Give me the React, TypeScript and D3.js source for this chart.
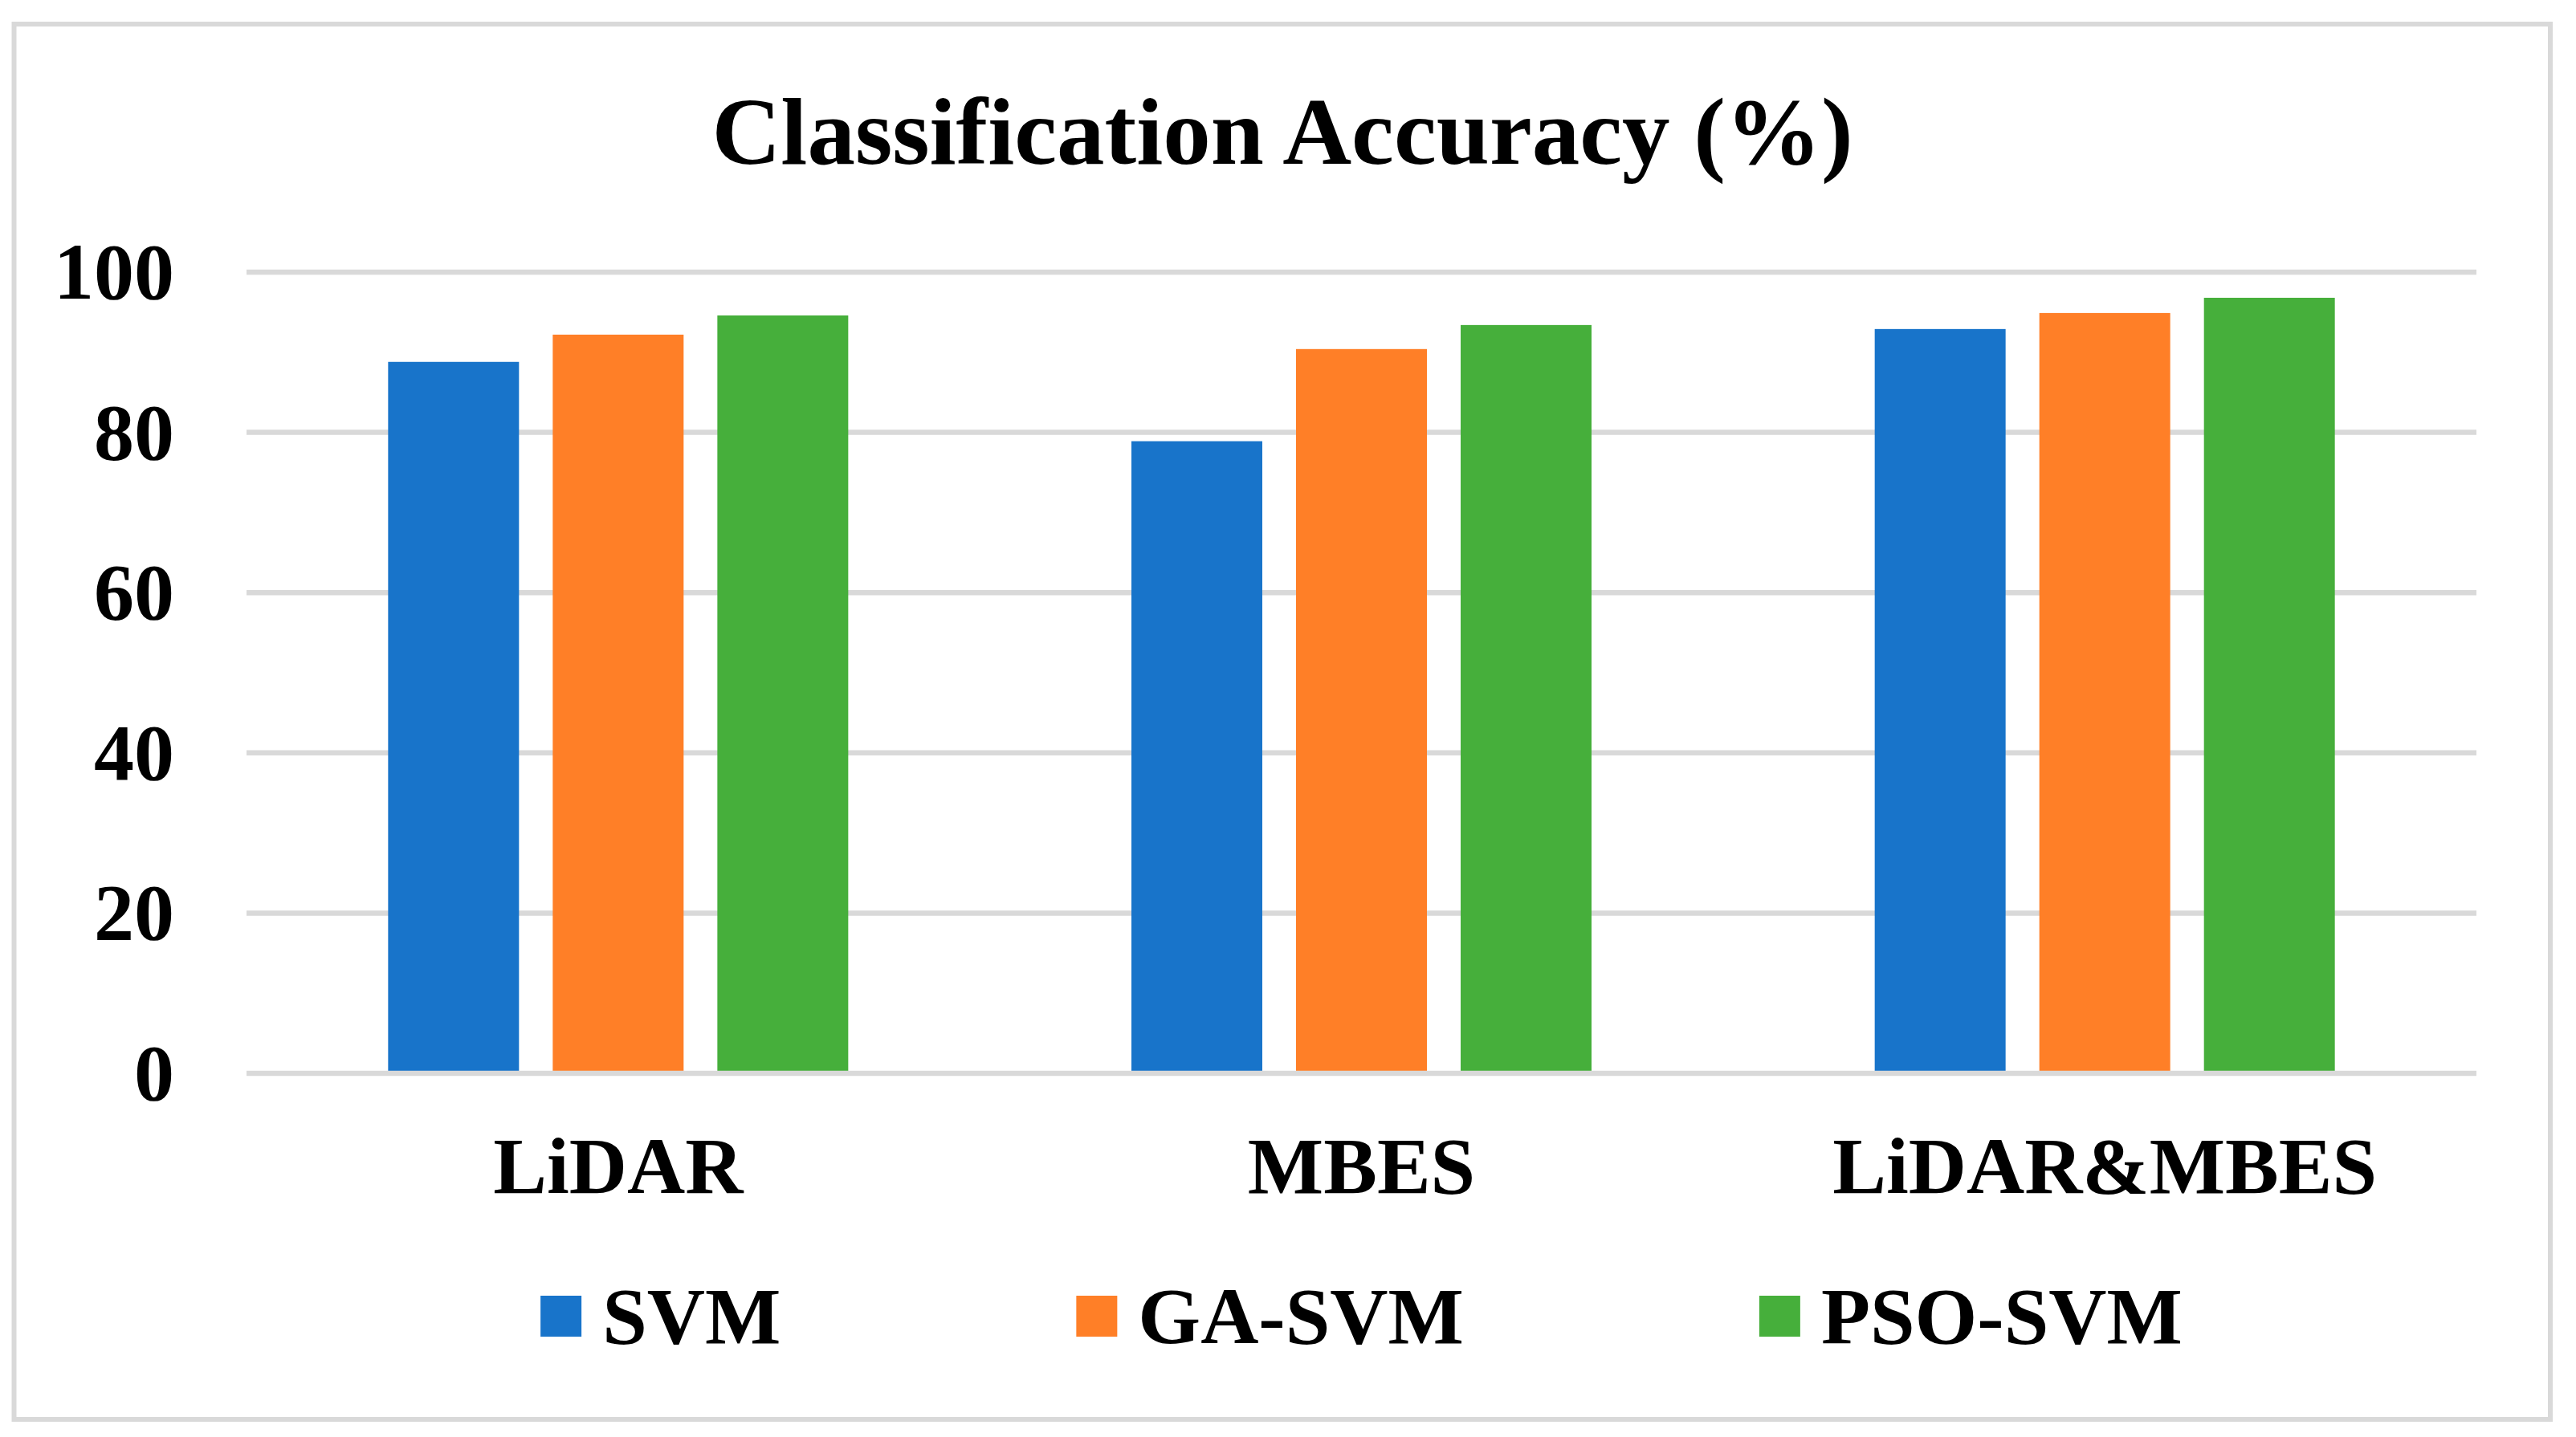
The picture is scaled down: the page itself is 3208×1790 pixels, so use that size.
import React, { useEffect, useRef } from 'react';
import * as d3 from 'd3';

const categories = ['LiDAR', 'MBES', 'LiDAR&MBES'];
const seriesNames = ['SVM', 'GA-SVM', 'PSO-SVM'];
const svmValues = [88.8, 78.9, 92.9];
const gaSvmValues = [92.2, 90.4, 94.9];
const psoSvmValues = [94.6, 93.4, 96.8];
const yTicks = [0, 20, 40, 60, 80, 100];

const colors = ['#1874ca', '#ff7f27', '#46af3b'];

const W = 3208;
const H = 1790;
const FONT = '"Liberation Serif", "Times New Roman", serif';

export default function App() {
  const svgRef = useRef<SVGSVGElement>(null);

  useEffect(() => {
    if (!svgRef.current) return;
    const svg = d3.select(svgRef.current);
    svg.selectAll('*').remove();

    const plot = { left: 307, right: 3084, top: 339, bottom: 1337 };
    const values = [svmValues, gaSvmValues, psoSvmValues];

    // chart frame
    svg.append('rect')
      .attr('x', 17.5).attr('y', 30)
      .attr('width', 3176 - 17.5).attr('height', 1768 - 30)
      .attr('fill', '#fff')
      .attr('stroke', '#d9d9d9')
      .attr('stroke-width', 6);

    svg.append('text')
      .attr('x', 1597).attr('y', 204)
      .attr('text-anchor', 'middle')
      .attr('font-family', FONT)
      .attr('font-weight', 'bold')
      .attr('font-size', 119)
      .text('Classification Accuracy (%)');

    const x0 = d3.scaleBand<string>().domain(categories).range([plot.left, plot.right]);
    const x1 = d3.scaleBand<string>().domain(seriesNames).range([0, 573]).paddingInner(0.205);
    const groupPad = (x0.bandwidth() - 573) / 2;
    const y = d3.scaleLinear().domain([0, 100]).range([plot.bottom, plot.top]);

    // gridlines (not the zero line, that goes on top)
    svg.append('g')
      .selectAll('line')
      .data(yTicks.filter(t => t !== 0))
      .join('line')
      .attr('x1', plot.left).attr('x2', plot.right)
      .attr('y1', d => y(d)).attr('y2', d => y(d))
      .attr('stroke', '#d9d9d9')
      .attr('stroke-width', 6.5);

    svg.append('g')
      .selectAll('text')
      .data(yTicks)
      .join('text')
      .attr('x', 217)
      .attr('y', d => y(d) + 33)
      .attr('text-anchor', 'end')
      .attr('font-family', FONT)
      .attr('font-weight', 'bold')
      .attr('font-size', 100)
      .text(d => d);

    // bars
    seriesNames.forEach((s, si) => {
      svg.append('g')
        .selectAll('rect')
        .data(values[si])
        .join('rect')
        .attr('x', (_, i) => x0(categories[i])! + groupPad + x1(s)!)
        .attr('y', d => y(d))
        .attr('width', x1.bandwidth())
        .attr('height', d => y(0) - y(d))
        .attr('fill', colors[si]);
    });

    svg.append('line')
      .attr('x1', plot.left).attr('x2', plot.right)
      .attr('y1', y(0)).attr('y2', y(0))
      .attr('stroke', '#d9d9d9')
      .attr('stroke-width', 6.5);

    svg.append('g')
      .selectAll('text')
      .data(categories)
      .join('text')
      .attr('x', d => x0(d)! + x0.bandwidth() / 2)
      .attr('y', 1486)
      .attr('text-anchor', 'middle')
      .attr('font-family', FONT)
      .attr('font-weight', 'bold')
      .attr('font-size', 100)
      .text(d => d);

    // legend, laid out from measured text widths and centred on the plot
    const sq = 51, sqGap = 26, itemGap = 368;
    const legend = svg.append('g');
    const items = seriesNames.map((s, i) => {
      const g = legend.append('g');
      g.append('rect')
        .attr('y', 1614).attr('width', sq).attr('height', sq)
        .attr('fill', colors[i]);
      const t = g.append('text')
        .attr('x', sq + sqGap).attr('y', 1673)
        .attr('font-family', FONT)
        .attr('font-weight', 'bold')
        .attr('font-size', 100)
        .text(s);
      const w = sq + sqGap + (t.node() as SVGTextElement).getComputedTextLength();
      return { g, w };
    });
    const total = d3.sum(items, d => d.w) + itemGap * (items.length - 1);
    let cx = (plot.left + plot.right) / 2 - total / 2;
    items.forEach(it => {
      it.g.attr('transform', `translate(${cx},0)`);
      cx += it.w + itemGap;
    });
  }, []);

  return (
    <div style={{ position: 'absolute', left: 0, top: 0, width: W, height: H, background: '#fff' }}>
      <svg ref={svgRef} width={W} height={H} style={{ display: 'block' }}></svg>
    </div>
  );
}
